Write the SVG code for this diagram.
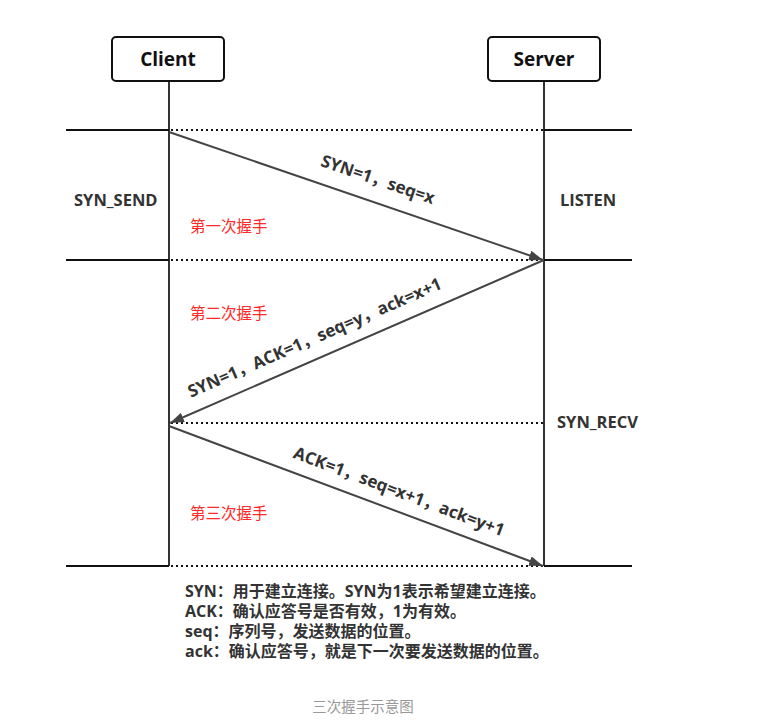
<svg xmlns="http://www.w3.org/2000/svg" width="774" height="726" viewBox="0 0 774 726">
<style>
.box{fill:#fff;stroke:#111;stroke-width:2}
.title{font-family:"Open Sans","Noto Sans CJK SC",sans-serif;font-weight:700;font-size:19px;fill:#111;text-anchor:middle}
.life{stroke:#333;stroke-width:2;fill:none}
.solid{stroke:#111;stroke-width:2}
.dot{stroke:#111;stroke-width:2;stroke-dasharray:2 3}
.msg{stroke:#444;stroke-width:2;fill:none}
.lbl{font-family:"Open Sans","Noto Sans CJK SC",sans-serif;font-weight:700;font-size:17px;fill:#333}
.state{font-family:"Open Sans","Noto Sans CJK SC",sans-serif;font-weight:700;font-size:16.5px;fill:#333}
.red{font-family:"Noto Sans CJK SC",sans-serif;font-size:15.5px;fill:#ff2a2a}
.note{font-family:"Open Sans","Noto Sans CJK SC",sans-serif;font-weight:700;font-size:16px;fill:#333}
.cap{font-family:"Noto Sans CJK SC",sans-serif;font-size:14.5px;fill:#999;text-anchor:middle}
</style>
<defs>
<marker id="ah" viewBox="0 0 14 10" refX="14" refY="5" markerWidth="14" markerHeight="10" markerUnits="userSpaceOnUse" orient="auto">
<path d="M0,0 L14,5 L0,10 Z" fill="#444"/>
</marker>
</defs>
<g id="connectors">
<line class="life" x1="169" y1="81" x2="169" y2="566"/>
<line class="life" x1="544" y1="81" x2="544" y2="566"/>
<line class="solid" x1="66" y1="130" x2="169" y2="130"/>
<line class="dot" x1="171" y1="130" x2="544" y2="130"/>
<line class="solid" x1="544" y1="130" x2="632" y2="130"/>
<line class="solid" x1="66" y1="260" x2="169" y2="260"/>
<line class="dot" x1="171" y1="260" x2="544" y2="260"/>
<line class="solid" x1="544" y1="260" x2="632" y2="260"/>
<line class="dot" x1="171" y1="423" x2="544" y2="423"/>
<line class="solid" x1="66" y1="566" x2="169" y2="566"/>
<line class="dot" x1="171" y1="566" x2="544" y2="566"/>
<line class="solid" x1="544" y1="566" x2="632" y2="566"/>
<line class="msg" x1="169" y1="132" x2="543" y2="260" marker-end="url(#ah)"/>
<line class="msg" x1="544" y1="260" x2="170" y2="423" marker-end="url(#ah)"/>
<line class="msg" x1="169" y1="426" x2="543" y2="566" marker-end="url(#ah)"/>
<text class="lbl" text-anchor="middle" transform="translate(376,185) rotate(18.85)">SYN=1，seq=x</text>
<text class="lbl" text-anchor="middle" transform="translate(317,343) rotate(-23.5)">SYN=1，ACK=1，seq=y，ack=x+1</text>
<text class="lbl" text-anchor="middle" transform="translate(397,497) rotate(20.6)">ACK=1，seq=x+1，ack=y+1</text>
</g>
<g id="client">
<rect class="box" x="112" y="37" width="112" height="44" rx="4"/>
<text class="title" x="168" y="66">Client</text>
</g>
<g id="server">
<rect class="box" x="488" y="37" width="112" height="44" rx="4"/>
<text class="title" x="544" y="66">Server</text>
</g>
<g id="states">
<text class="state" x="74" y="206">SYN_SEND</text>
<text class="state" x="560" y="206">LISTEN</text>
<text class="state" x="557" y="428">SYN_RECV</text>
<text class="red" x="190" y="232">第一次握手</text>
<text class="red" x="190" y="319">第二次握手</text>
<text class="red" x="190" y="519">第三次握手</text>
</g>
<g id="notes">
<text class="note" x="185" y="597">SYN：用于建立连接。SYN为1表示希望建立连接。</text>
<text class="note" x="185" y="617">ACK：确认应答号是否有效，1为有效。</text>
<text class="note" x="185" y="637">seq：序列号，发送数据的位置。</text>
<text class="note" x="185" y="657">ack：确认应答号，就是下一次要发送数据的位置。</text>
<text class="cap" x="363" y="712">三次握手示意图</text>
</g>
</svg>
